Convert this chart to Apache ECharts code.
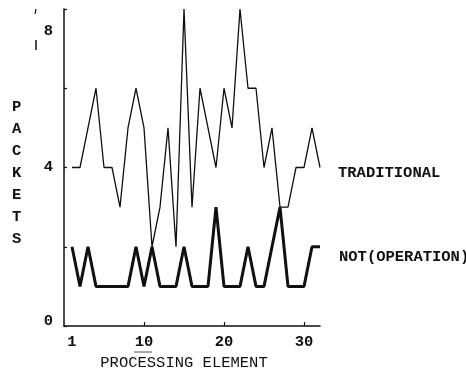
<!DOCTYPE html>
<html>
<head>
<meta charset="utf-8">
<script src="https://cdn.jsdelivr.net/npm/echarts@6/dist/echarts.min.js"></script>
<style>html,body{margin:0;padding:0;background:#fff}#c{width:466px;height:376px}</style>
</head>
<body>
<div id="c"></div>
<script>
var processingElements = [1,2,3,4,5,6,7,8,9,10,11,12,13,14,15,16,17,18,19,20,21,22,23,24,25,26,27,28,29,30,31,32];
var traditional = [4,4,5,6,4,4,3,5,6,5,2,3,5,2,8,3,6,5,4,6,5,8,6,6,4,5,3,3,4,4,5,4];
var notOperation = [2,1,2,1,1,1,1,1,2,1,2,1,1,1,2,1,1,1,3,1,1,1,2,1,1,2,3,1,1,1,2,2];
var xTickLabels = [1,10,20,30];
var xTickMarks = [10,20,30];
var yTickLabels = [0,4,8];
var seriesNames = ['TRADITIONAL','NOT(OPERATION)'];
var yTitle = 'PACKETS';
var xTitle = 'PROCESSING ELEMENT';

var FONT = '"Liberation Mono", "DejaVu Sans Mono", monospace';
var FS = 15.5;
var ink = '#111';

function pairs(vals){ return vals.map(function(v,i){ return [processingElements[i], v]; }); }

var chart = echarts.init(document.getElementById('c'), null, {renderer:'canvas'});
chart.setOption({
  animation: false,
  backgroundColor: '#fff',
  grid: {left: 64, right: 146, top: 9, bottom: 50, containLabel: false},
  xAxis: {
    type: 'value', min: 0, max: 32,
    name: xTitle, nameLocation: 'middle', nameGap: 29,
    nameTextStyle: {fontFamily: FONT, fontSize: FS, color: ink, padding:[0,16,0,0]},
    axisLine: {show: true, lineStyle: {color: ink, width: 1.5}},
    axisTick: {show: true, inside: true, length: 4, customValues: xTickMarks, lineStyle:{color: ink, width: 1.2}},
    axisLabel: {show: true, customValues: xTickLabels, margin: 8, fontFamily: FONT, fontSize: FS, fontWeight: 'bold', color: ink},
    splitLine: {show: false}
  },
  yAxis: {
    type: 'value', min: 0, max: 8, interval: 2,
    axisLine: {show: true, lineStyle: {color: ink, width: 1.5}},
    axisTick: {show: true, inside: true, length: 3, lineStyle:{color: ink, width: 1.2}},
    axisLabel: {
      show: true, margin: 11, fontFamily: FONT, fontSize: FS, fontWeight: 'bold', color: ink,
      formatter: function(v){
        if (yTickLabels.indexOf(v) < 0) return '';
        if (v === 8) return '{d|' + v + '}';
        if (v === 0) return '{u|' + v + '}';
        return '{n|' + v + '}';
      },
      rich: {
        d: {padding: [44,0,0,0], fontFamily: FONT, fontSize: FS, fontWeight: 'bold', color: ink},
        u: {padding: [0,0,10,0], fontFamily: FONT, fontSize: FS, fontWeight: 'bold', color: ink},
        n: {fontFamily: FONT, fontSize: FS, fontWeight: 'bold', color: ink}
      }
    },
    splitLine: {show: false}
  },
  graphic: [{
    type: 'text', left: 12, top: 96,
    style: {text: yTitle.split('').join('\n'), lineHeight: 22, fontFamily: FONT, fontSize: FS, fontWeight: 'bold', fill: ink, align: 'center'}
  },{
    type: 'line', shape: {x1: 36, y1: 9, x2: 35, y2: 14}, style: {stroke: ink, lineWidth: 1.2}
  },{
    type: 'line', shape: {x1: 36, y1: 40, x2: 36, y2: 50}, style: {stroke: ink, lineWidth: 1.5}
  },{
    type: 'line', shape: {x1: 134, y1: 352, x2: 152, y2: 352}, style: {stroke: '#555', lineWidth: 1}
  }],
  series: [{
    name: seriesNames[0], type: 'line', data: pairs(traditional),
    symbol: 'none', lineStyle: {color: ink, width: 1.3},
    endLabel: {show: true, formatter: seriesNames[0], offset: [10, 6], fontFamily: FONT, fontSize: FS, color: ink, fontWeight: 'bold'}
  },{
    name: seriesNames[1], type: 'line', data: pairs(notOperation),
    symbol: 'none', lineStyle: {color: ink, width: 3},
    endLabel: {show: true, formatter: seriesNames[1], offset: [11, 10], fontFamily: FONT, fontSize: FS, color: ink, fontWeight: 'bold'}
  }]
});
</script>
</body>
</html>
